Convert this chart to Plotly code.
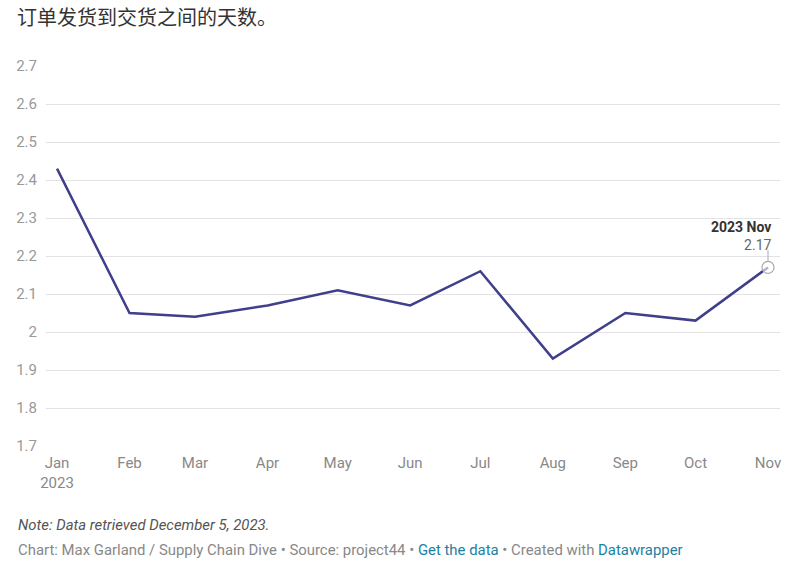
import plotly.graph_objects as go
import pandas as pd

months = ["2023-01-01", "2023-02-01", "2023-03-01", "2023-04-01", "2023-05-01", "2023-06-01",
          "2023-07-01", "2023-08-01", "2023-09-01", "2023-10-01", "2023-11-01"]
tick_labels = ["Jan<br>2023", "Feb", "Mar", "Apr", "May", "Jun", "Jul", "Aug", "Sep", "Oct", "Nov"]
days = [2.43, 2.05, 2.04, 2.07, 2.11, 2.07, 2.16, 1.93, 2.05, 2.03, 2.17]
y_ticks = [1.7, 1.8, 1.9, 2.0, 2.1, 2.2, 2.3, 2.4, 2.5, 2.6, 2.7]
y_tick_labels = ["1.7", "1.8", "1.9", "2", "2.1", "2.2", "2.3", "2.4", "2.5", "2.6", "2.7"]
last_label = "2023 Nov"

x = pd.to_datetime(months)

fig = go.Figure()
fig.add_trace(go.Scatter(
    x=x, y=days, mode="lines",
    line=dict(color="#3f3f8c", width=2.5),
    hoverinfo="skip", showlegend=False,
))
fig.add_trace(go.Scatter(
    x=[x[-1]], y=[days[-1]], mode="markers",
    marker=dict(size=12, color="rgba(255,255,255,0.6)", line=dict(color="#aaaaaa", width=1.2)),
    hoverinfo="skip", showlegend=False,
))

W, H = 806, 571
pl, pr, pt, pb = 46, 26, 66, 125
pw, ph = W - pl - pr, H - pt - pb

fig.update_layout(
    width=W, height=H,
    margin=dict(l=pl, r=pr, t=pt, b=pb),
    paper_bgcolor="white", plot_bgcolor="white",
    font=dict(family="Roboto, sans-serif", size=15, color="#888888"),
    xaxis=dict(
        type="date",
        range=[x[0] - pd.Timedelta(hours=113), x[-1] + pd.Timedelta(hours=123)],
        tickvals=x, ticktext=tick_labels,
        showgrid=False, zeroline=False, showline=False,
        ticks="", ticklabelstandoff=6,
        tickfont=dict(size=15, color="#888888"),
        fixedrange=True,
    ),
    yaxis=dict(
        range=[1.7, 2.7],
        tickvals=y_ticks, ticktext=y_tick_labels,
        showgrid=True, gridcolor="#e3e3e3", gridwidth=1,
        zeroline=False, showline=False,
        ticks="", ticklabelstandoff=8,
        tickfont=dict(size=15, color="#999999"),
        fixedrange=True,
    ),
)

fig.add_shape(type="line", xref="x", yref="y",
              x0=x[-1], x1=x[-1], y0=days[-1] + 0.016, y1=days[-1] + 0.045,
              line=dict(color="#aaaaaa", width=1))

def px_to_paper(px, py):
    return (px - pl) / pw, (H - pb - py) / ph

annots = []
annots.append(go.layout.Annotation(
    x=x[-1], y=days[-1] + 0.045, xref="x", yref="y",
    text=f"<b><span style='color:#333333'>{last_label}</span></b><br>{days[-1]:.2f}",
    showarrow=False, xanchor="right", yanchor="bottom", align="right",
    xshift=6, yshift=-5,
    font=dict(family="Roboto, sans-serif", size=14, color="#666666"),
))

tx, ty = px_to_paper(15, 17)
annots.append(go.layout.Annotation(
    x=tx, y=ty, xref="paper", yref="paper", showarrow=False,
    xanchor="left", yanchor="middle",
    text="订单发货到交货之间的天数。",
    font=dict(family="Noto Sans CJK SC", size=20, color="#333333"),
))

nx, ny = px_to_paper(16, 525)
sx, sy = px_to_paper(16, 550)
annots.append(go.layout.Annotation(
    x=nx, y=ny, xref="paper", yref="paper", showarrow=False,
    xanchor="left", yanchor="middle",
    text="<i>Note: Data retrieved December 5, 2023.</i>",
    font=dict(family="Roboto, sans-serif", size=14.9, color="#555555"),
))
annots.append(go.layout.Annotation(
    x=sx, y=sy, xref="paper", yref="paper", showarrow=False,
    xanchor="left", yanchor="middle",
    text=("Chart: Max Garland / Supply Chain Dive • Source: project44 • "
          "<span style='color:#1d81a2'>Get the data</span> • Created with "
          "<span style='color:#1d81a2'>Datawrapper</span>"),
    font=dict(family="Roboto, sans-serif", size=14.9, color="#888888"),
))
fig.update_layout(annotations=annots)

fig.write_html("out.html")
